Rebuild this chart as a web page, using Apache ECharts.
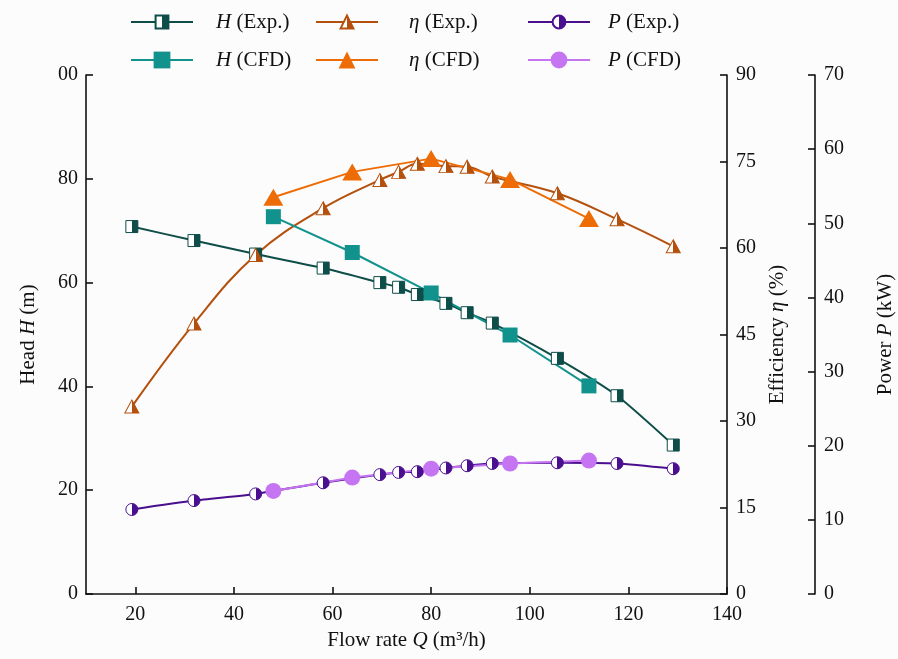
<!DOCTYPE html>
<html>
<head>
<meta charset="utf-8">
<script src="https://cdn.jsdelivr.net/npm/echarts@6/dist/echarts.min.js"></script>
<style>
html,body{margin:0;padding:0;background:#fcfcfc;}
#chart{width:898px;height:659px;}
</style>
</head>
<body>
<div id="chart"></div>
<script>
// ---- data ----
const Q_exp   = [19.3, 31.9, 44.4, 58.1, 69.6, 73.4, 77.2, 83.0, 87.3, 92.4, 105.6, 117.7, 129.1];
const H_exp   = [70.8, 68.1, 65.5, 62.8, 60.0, 59.1, 57.7, 56.0, 54.2, 52.2, 45.4, 38.2, 28.7];
const eta_exp = [32.5, 46.9, 58.8, 66.9, 71.8, 73.2, 74.6, 74.2, 74.1, 72.4, 69.5, 65.0, 60.3];
const P_exp   = [11.4, 12.6, 13.5, 15.0, 16.1, 16.4, 16.5, 17.0, 17.3, 17.6, 17.7, 17.6, 16.9];
const Q_cfd   = [48, 64, 80, 96, 112];
const H_cfd   = [72.7, 65.8, 58.0, 49.9, 40.1];
const eta_cfd = [68.8, 73.2, 75.5, 71.9, 65.1];
const P_cfd   = [13.9, 15.7, 16.9, 17.6, 18.0];
const xTicks  = [20, 40, 60, 80, 100, 120, 140];
const seriesNames = ['H (Exp.)', 'H (CFD)', 'η (Exp.)', 'η (CFD)', 'P (Exp.)', 'P (CFD)'];

const FONT = 'Liberation Serif';
const C = {
  hExp: '#0e4d48', hCfd: '#12928d',
  eExp: '#b4500e', eCfd: '#ee6c05',
  pExp: '#4a0f8f', pCfd: '#c574f2'
};
function halfFill(col) {
  return {type: 'linear', x: 0, y: 0, x2: 1, y2: 0,
    colorStops: [{offset: 0, color: '#ffffff'}, {offset: 0.5, color: '#ffffff'},
                 {offset: 0.5, color: col}, {offset: 1, color: col}]};
}
function pairs(xs, ys) { return xs.map((x, i) => [x, ys[i]]); }

const italic = {fontStyle: 'italic', fontFamily: FONT, fontSize: 21, color: '#111'};
const legTxt = (pad) => ({fontFamily: FONT, fontSize: 21, color: '#111', lineHeight: 24,
  padding: [0, 0, 0, pad], rich: {i: italic}});
const legFmt = (name) => { const k = name.indexOf(' '); return '{i|' + name.slice(0, k) + '}' + name.slice(k); };
function leg(name, left, top, ih, pad) {
  return {data: [name], left: left, top: top, padding: 0, itemWidth: 62, itemHeight: ih,
    textStyle: legTxt(pad), formatter: legFmt, selectedMode: false};
}

const axisCommon = {
  axisLine: {show: true, lineStyle: {color: '#111', width: 1.6}},
  axisTick: {show: true, inside: true, length: 7, lineStyle: {color: '#111', width: 1.6}},
  splitLine: {show: false},
  axisLabel: {fontFamily: FONT, fontSize: 20, color: '#111'},
  nameTextStyle: {fontFamily: FONT, fontSize: 21, color: '#111', rich: {i: italic}}
};

const chart = echarts.init(document.getElementById('chart'), null, {renderer: 'canvas'});
chart.setOption({
  backgroundColor: '#fcfcfc',
  animation: false,
  grid: {left: 86, right: 171, top: 75, bottom: 65, containLabel: false, outerBoundsMode: 'none'},
  legend: [
    leg(seriesNames[0], 130, 10, 16, 18),
    leg(seriesNames[1], 130, 48, 21, 18),
    leg(seriesNames[2], 315, 10, 16, 26),
    leg(seriesNames[3], 315, 48, 21, 26),
    leg(seriesNames[4], 527, 10, 16, 13),
    leg(seriesNames[5], 527, 48, 21, 13)
  ],
  xAxis: Object.assign({}, axisCommon, {
    type: 'value', min: 10, max: 140, interval: 10,
    name: 'Flow rate {i|Q} (m³/h)', nameLocation: 'middle', nameGap: 34,
    axisTick: Object.assign({}, axisCommon.axisTick, {customValues: xTicks}),
    axisLabel: Object.assign({}, axisCommon.axisLabel, {customValues: xTicks, margin: 11})
  }),
  yAxis: [
    Object.assign({}, axisCommon, {
      type: 'value', min: 0, max: 100, interval: 20, position: 'left',
      name: 'Head {i|H} (m)', nameLocation: 'middle', nameGap: 47, nameRotate: 90,
      axisLabel: Object.assign({}, axisCommon.axisLabel, {margin: 8,
        formatter: v => (v === 100 ? '00' : String(v))})
    }),
    Object.assign({}, axisCommon, {
      type: 'value', min: 0, max: 90, interval: 15, position: 'right',
      name: 'Efficiency {i|η} (%)', nameLocation: 'middle', nameGap: 37, nameRotate: 90,
      axisLabel: Object.assign({}, axisCommon.axisLabel, {margin: 9})
    }),
    Object.assign({}, axisCommon, {
      type: 'value', min: 0, max: 70, interval: 10, position: 'right', offset: 88,
      name: 'Power {i|P} (kW)', nameLocation: 'middle', nameGap: 60, nameRotate: 90,
      axisLabel: Object.assign({}, axisCommon.axisLabel, {margin: 9})
    })
  ],
  series: [
    {name: seriesNames[0], type: 'line', yAxisIndex: 0, data: pairs(Q_exp, H_exp),
      symbol: 'rect', symbolSize: 12, smooth: 0.2,
      lineStyle: {color: C.hExp, width: 2}, itemStyle: {color: halfFill(C.hExp), borderColor: C.hExp, borderWidth: 1}},
    {name: seriesNames[2], type: 'line', yAxisIndex: 1, data: pairs(Q_exp, eta_exp),
      symbol: 'triangle', symbolSize: [14, 13], smooth: 0.4,
      lineStyle: {color: C.eExp, width: 2}, itemStyle: {color: halfFill(C.eExp), borderColor: C.eExp, borderWidth: 1}},
    {name: seriesNames[4], type: 'line', yAxisIndex: 2, data: pairs(Q_exp, P_exp),
      symbol: 'circle', symbolSize: 12, smooth: 0.2,
      lineStyle: {color: C.pExp, width: 2}, itemStyle: {color: halfFill(C.pExp), borderColor: C.pExp, borderWidth: 1}},
    {name: seriesNames[1], type: 'line', yAxisIndex: 0, data: pairs(Q_cfd, H_cfd),
      symbol: 'rect', symbolSize: 15,
      lineStyle: {color: C.hCfd, width: 2}, itemStyle: {color: C.hCfd}},
    {name: seriesNames[3], type: 'line', yAxisIndex: 1, data: pairs(Q_cfd, eta_cfd),
      symbol: 'triangle', symbolSize: [20, 17],
      lineStyle: {color: C.eCfd, width: 2}, itemStyle: {color: C.eCfd}},
    {name: seriesNames[5], type: 'line', yAxisIndex: 2, data: pairs(Q_cfd, P_cfd),
      symbol: 'circle', symbolSize: 16,
      lineStyle: {color: C.pCfd, width: 2}, itemStyle: {color: C.pCfd}}
  ]
});
</script>
</body>
</html>
